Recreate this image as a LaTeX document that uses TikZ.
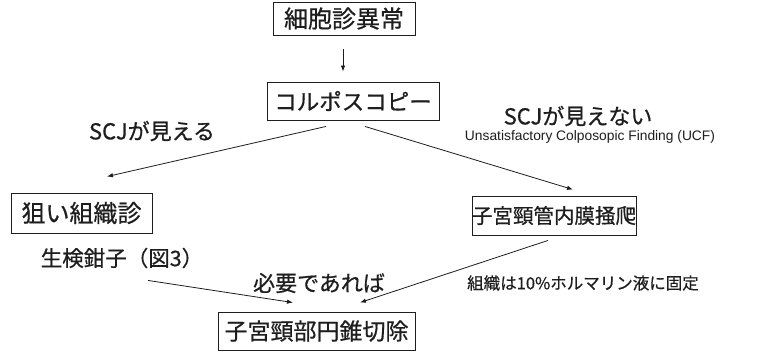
\documentclass[tikz,border=0pt]{standalone}
\usepackage{fontspec}
\setmainfont{Noto Sans CJK JP}[FakeBold=0.6]
\newfontfamily\latinsans{Liberation Sans}
\usetikzlibrary{arrows.meta,calc}
\definecolor{ink}{HTML}{1E1E1E}
\tikzset{
  boxnode/.style={draw=ink, line width=0.9pt, text=ink, inner sep=0pt, align=center},
  lbl/.style={text=ink, inner sep=0pt, align=center},
  arr/.style={draw=ink, line width=0.8pt, -{Latex[length=6pt,width=4.5pt]}},
}
\newcommand{\fs}[1]{\fontsize{#1}{#1}\selectfont}
\begin{document}
\begin{tikzpicture}[x=1pt,y=-1pt]
\useasboundingbox[fill=white] (0,0) rectangle (767,354);
% boxes
\node[boxnode, minimum width=142pt, minimum height=33pt, font=\fs{24}] (A) at (344,18.5) {細胞診異常};
\node[boxnode, minimum width=172pt, minimum height=38pt, font=\fs{22.5}] (B) at (353,101) {コルポスコピー};
\node[boxnode, minimum width=141pt, minimum height=40pt, font=\fs{24}] (C) at (81.5,213) {狙い組織診};
\node[boxnode, minimum width=152pt, minimum height=39pt, font=\fs{20.5}] (D) at (554,215.5) {子宮頸管内膜掻爬};
\node[boxnode, minimum width=197pt, minimum height=38pt, font=\fs{23}] (E) at (316.5,331) {子宮頸部円錐切除};
% labels
\node[lbl, font=\fs{22}] (L1) at (152,131) {SCJが見える};
\node[lbl, font=\fs{22}] (L2) at (578,116) {SCJが見えない};
\node[lbl, font=\latinsans\fs{13.8}] (L3) at (590,137) {Unsatisfactory Colposopic Finding (UCF)};
\node[lbl, font=\fs{21.5}] (F) at (122,258) {生検鉗子（図3）};
\node[lbl, font=\fs{22}] (L4) at (319,283) {必要であれば};
\node[lbl, font=\fs{16.5}] (L5) at (583,283) {組織は10\%ホルマリン液に固定};
% arrows
\draw[arr] ($(A.south)+(-1,14)$) -- ($(B.north)+(-10,-10)$);
\draw[arr] ($(B.south)+(-27,6)$) -- ($(C.north)+(25.5,-16)$);
\draw[arr] ($(B.south)+(12,6)$) -- ($(D.north)+(19,-6)$);
\draw[arr] ($(F.south)+(26,12)$) -- ($(E.north)+(-23.5,-9)$);
\draw[arr] ($(D.south)+(-6,5)$) -- ($(E.north)+(43.5,-9)$);
\end{tikzpicture}
\end{document}
